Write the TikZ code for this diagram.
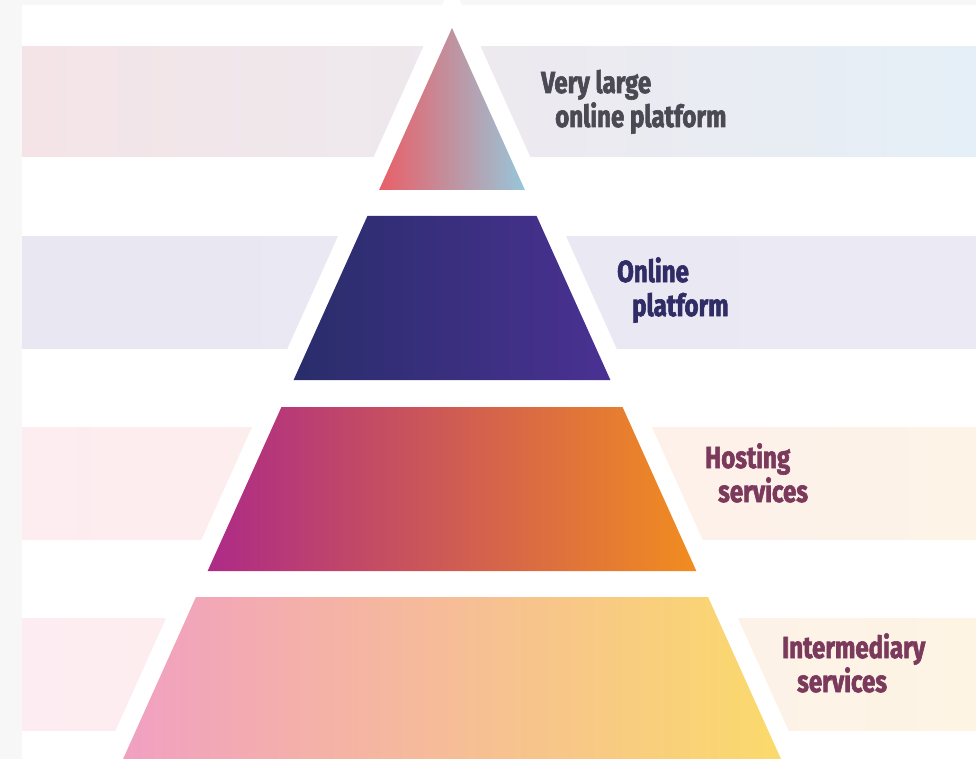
\documentclass[tikz,border=0pt]{standalone}
\usepackage{fontspec}
\setmainfont[FakeStretch=0.79, BoldFeatures={FakeBold=2}]{Fira Sans}
\usetikzlibrary{positioning}

\definecolor{pageGray}{HTML}{F7F7F7}
\definecolor{textA}{HTML}{4B4A54}
\definecolor{textB}{HTML}{2F2C66}
\definecolor{textC}{HTML}{7B3A5C}

\begin{document}
\begin{tikzpicture}[
            x = 1pt, y = -1pt, % one unit = one pixel of the layout
            tierlabel/.style = {
                anchor = base west, % base of the last line
                inner sep = 0pt,
                align = left,
                font = \fontsize{30.5}{34}\selectfont\bfseries
            }
        ]

        % page
        \fill[pageGray] (0,0) rectangle (976,759);
        \fill[white] (22,5) rectangle (976,759);
        \useasboundingbox (0,0) rectangle (976,759);
        \clip (0,0) rectangle (976,759);

        % bands behind the tiers
        \shade[left color={rgb,255:red,244;green,228;blue,231}, right color={rgb,255:red,229;green,239;blue,247}] (22,47) rectangle (976,157);
        \shade[left color={rgb,255:red,233;green,231;blue,242}, right color={rgb,255:red,234;green,233;blue,244}] (22,237) rectangle (976,348);
        \shade[left color={rgb,255:red,253;green,236;blue,240}, right color={rgb,255:red,253;green,243;blue,231}] (22,427) rectangle (976,539);
        \shade[left color={rgb,255:red,253;green,236;blue,241}, right color={rgb,255:red,253;green,244;blue,228}] (22,618) rectangle (976,730);

        % white gap round the pyramid
        \coordinate (apex) at (452,28);
        \fill[white] (452,-17) -- ({452+0.45*797},780) -- ({452-0.45*797},780) -- cycle;

        % tiers: top/bottom/left/middle/right colour
        \foreach \t/\b/\cl/\cm/\cr in {
                28/190/E95F67/C3909C/97C6DA,
                216/380/292D6B/36307D/4A3192,
                407/571/AD2A87/D25A52/F18D1F,
                597/780/F19FC3/F5B3B6/FBDB6A} {
            \definecolor{tl}{HTML}{\cl}
            \definecolor{tm}{HTML}{\cm}
            \definecolor{tr}{HTML}{\cr}
            \shade[left color=tl, middle color=tm, right color=tr]
                ({452-0.45*(\t-28)},\t) -- ({452+0.45*(\t-28)},\t)
                -- ({452+0.45*(\b-28)},\b) -- ({452-0.45*(\b-28)},\b) -- cycle;
        }

        % labels
        \node[tierlabel, text=textA] (vlop) at (541,127) {Very large\\\hspace{14pt}online platform};
        \node[tierlabel, text=textB] (op) at (617,316) {Online\\\hspace{15pt}platform};
        \node[tierlabel, text=textC] (hs) at (705,502) {Hosting\\\hspace{13pt}services};
        \node[tierlabel, text=textC] (is) at (782,692) {Intermediary\\\hspace{15pt}services};

\end{tikzpicture}
\end{document}
